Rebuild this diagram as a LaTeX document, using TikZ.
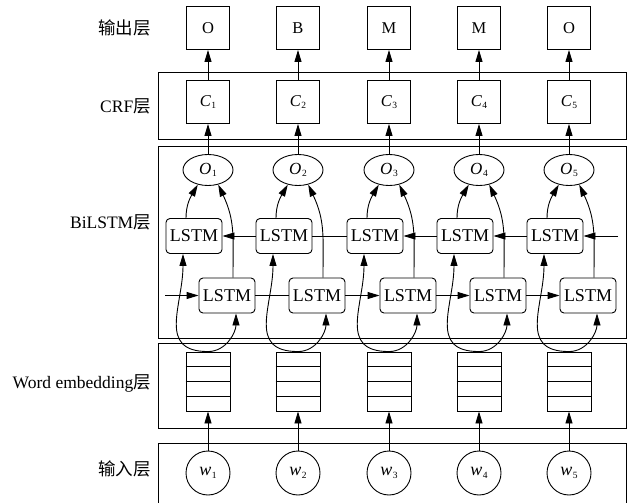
\documentclass[tikz,border=0pt]{standalone}
\usepackage{fontspec}
\setmainfont{Liberation Serif}
\newfontfamily\cjk{Noto Sans CJK SC}
\usetikzlibrary{arrows.meta,shapes.geometric,calc}
\newcommand\vsub[2]{\textit{#1}\kern0.5pt\raisebox{-2.5pt}{\fontsize{9.5}{9.5}\selectfont #2}}
\begin{document}
\begin{tikzpicture}[x=1pt,y=-1pt,
  lbl/.style={anchor=east,inner sep=0pt,font=\fontsize{17.5}{17.5}\selectfont},
  sq/.style={draw,line width=0.9pt,minimum size=43pt,inner sep=0pt,font=\fontsize{16.5}{16.5}\selectfont},
  ell/.style={draw,line width=0.9pt,ellipse,minimum width=50pt,minimum height=31pt,inner sep=0pt,font=\fontsize{17}{17}\selectfont},
  lstm/.style={draw,line width=0.9pt,rounded corners=4pt,minimum width=56pt,minimum height=35pt,inner sep=0pt,font=\fontsize{18}{18}\selectfont},
  wc/.style={draw,line width=0.9pt,circle,minimum size=44pt,inner sep=0pt,font=\fontsize{18}{18}\selectfont},
  stk/.style={draw,line width=0.9pt,minimum width=44pt,minimum height=59pt,inner sep=0pt},
  frame/.style={line width=0.9pt},
  arr/.style={-{Triangle[length=12pt,width=7pt]},line width=0.9pt},
  ln/.style={line width=0.9pt}
]
\clip (0,0) rectangle (627,503);
% frames
\draw[frame] (158,72) rectangle (626,139);
\draw[frame] (158,146) rectangle (626,338);
\draw[frame] (158,343) rectangle (626,428);
\draw[frame] (158,510) -- (158,443) -- (626,443) -- (626,510);
% labels
\node[lbl] (t1) at (151,28) {{\cjk 输出层}};
\node[lbl] (t2) at (151,106) {CRF{\cjk 层}};
\node[lbl] (t3) at (151,222) {BiLSTM{\cjk 层}};
\node[lbl] (t4) at (151,383) {Word embedding{\cjk 层}};
\node[lbl] (t5) at (151,469) {{\cjk 输入层}};
% columns
\foreach \i/\x/\t in {1/208/O,2/298/B,3/389/M,4/479/M,5/569/O} {
  \node[sq] (y\i) at (\x,28) {\t};
  \node[sq] (c\i) at (\x,102) {\vsub{C}{\i}};
  \node[ell] (o\i) at (\x,170) {\vsub{O}{\i}};
  \node[lstm] (u\i) at (\x-14,236) {LSTM};
  \node[lstm] (l\i) at (\x+19,295.5) {LSTM};
  \node[stk] (s\i) at (\x,381.5) {};
  \foreach \f in {0.25,0.5,0.75}
    \draw[ln] ($(s\i.north west)!\f!(s\i.south west)$) -- ($(s\i.north east)!\f!(s\i.south east)$);
  \node[wc] (w\i) at (\x,473) {\vsub{w}{\i}};
  \draw[arr] (c\i) -- (y\i);
  \draw[arr] (o\i) -- (c\i);
  \draw[arr] (w\i) -- (s\i);
  \draw[arr] ([xshift=-8pt]u\i.north) to[out=90,in=-120] (o\i.235);
  \draw[arr] ([xshift=6pt]l\i.north) to[out=90,in=-65,looseness=1.1] (o\i.-55);
  \draw[arr] (s\i.north) to[out=180,in=-90,looseness=1.3] ([xshift=-11pt]u\i.south);
  \draw[arr] (s\i.north) to[out=0,in=-90] ([xshift=9pt]l\i.south);
}
% horizontal connections
\coordinate (ue) at (618,236);
\coordinate (ls) at (165,295.5);
\draw[arr] (ue) -- (u5);
\draw[arr] (u5) -- (u4);
\draw[arr] (u4) -- (u3);
\draw[ln] (u3) -- (u2);
\draw[arr] (u2) -- (u1);
\draw[arr] (ls) -- (l1);
\draw[ln] (l1) -- (l2);
\draw[arr] (l2) -- (l3);
\draw[arr] (l3) -- (l4);
\draw[arr] (l4) -- (l5);
\end{tikzpicture}
\end{document}
